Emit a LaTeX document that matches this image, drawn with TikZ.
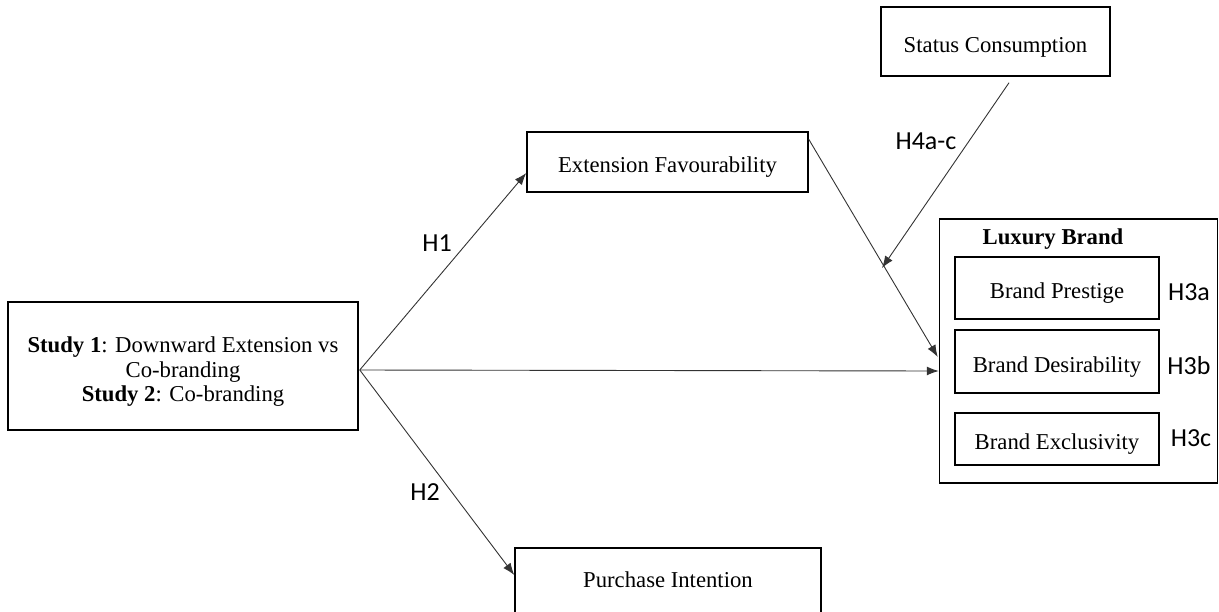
\documentclass[tikz,border=0pt]{standalone}
\usepackage{fontspec}
\setmainfont{Liberation Serif}
\newfontfamily\hfont{Carlito}
\usetikzlibrary{arrows.meta,calc}
\begin{document}
\begin{tikzpicture}[x=1pt,y=-1pt,
  box/.style={draw=black,line width=1.5pt,inner sep=0pt,align=center,font=\fontsize{22.7}{26}\selectfont},
  onebox/.style={box,text height=21pt,text depth=0pt},
  conn/.style={draw=black!80,line width=0.9pt,-{Latex[length=12pt,width=9pt]}},
  hlab/.style={font=\hfont\fontsize{26}{30}\selectfont,inner sep=0pt}]
\useasboundingbox (0,0) rectangle (1219,611);
\node[box,minimum width=350pt,minimum height=128pt] (study) at (183,366) {};
\node[align=center,inner sep=0pt,font=\fontsize{22.7}{24.5}\selectfont] (studytxt) at (183,372)
  {\textbf{Study 1}: Downward Extension vs\\Co-branding\\\textbf{Study 2}: Co-branding};
\node[onebox,minimum width=281pt,minimum height=60pt] (ext) at (667.5,162) {Extension Favourability};
\node[onebox,minimum width=229pt,minimum height=69pt] (status) at (995.5,41.5) {Status Consumption};
\node[box,minimum width=278pt,minimum height=264pt] (lux) at (1078.5,351) {};
\node[font=\bfseries\fontsize{22.7}{26}\selectfont,inner sep=0pt] (luxlab) at (1053,239) {Luxury Brand};
\node[onebox,minimum width=204pt,minimum height=62pt] (prest) at (1057,288) {Brand Prestige};
\node[onebox,minimum width=204pt,minimum height=63pt] (desir) at (1057,361.5) {Brand Desirability};
\node[onebox,minimum width=204pt,minimum height=52pt] (excl) at (1057,439) {Brand Exclusivity};
\node[box,text height=7pt,text depth=0pt,minimum width=306pt,minimum height=72pt] (purch) at (668,584) {Purchase Intention};
\coordinate (fan) at ($(study.east)+(1,4)$);
\draw[conn] (fan) -- ($(ext.west)+(0,11)$);
\draw[conn] (fan) -- ($(lux.west)+(0,20)$);
\draw[conn] (fan) -- ($(purch.west)+(0,-9)$);
\draw[conn] ($(ext.north east)+(0,8)$) -- ($(lux.west)+(-1,6)$);
\draw[conn] ($(status.south)+(13.5,6)$) -- (882,268);
\node[hlab] (h1) at (437,243) {H1};
\node[hlab] (h2) at (425,492) {H2};
\node[hlab] (h4) at (926,141) {H4a-c};
\node[hlab] (h3a) at (1189,292) {H3a};
\node[hlab] (h3b) at (1189,366) {H3b};
\node[hlab] (h3c) at (1191,438) {H3c};
\end{tikzpicture}
\end{document}
